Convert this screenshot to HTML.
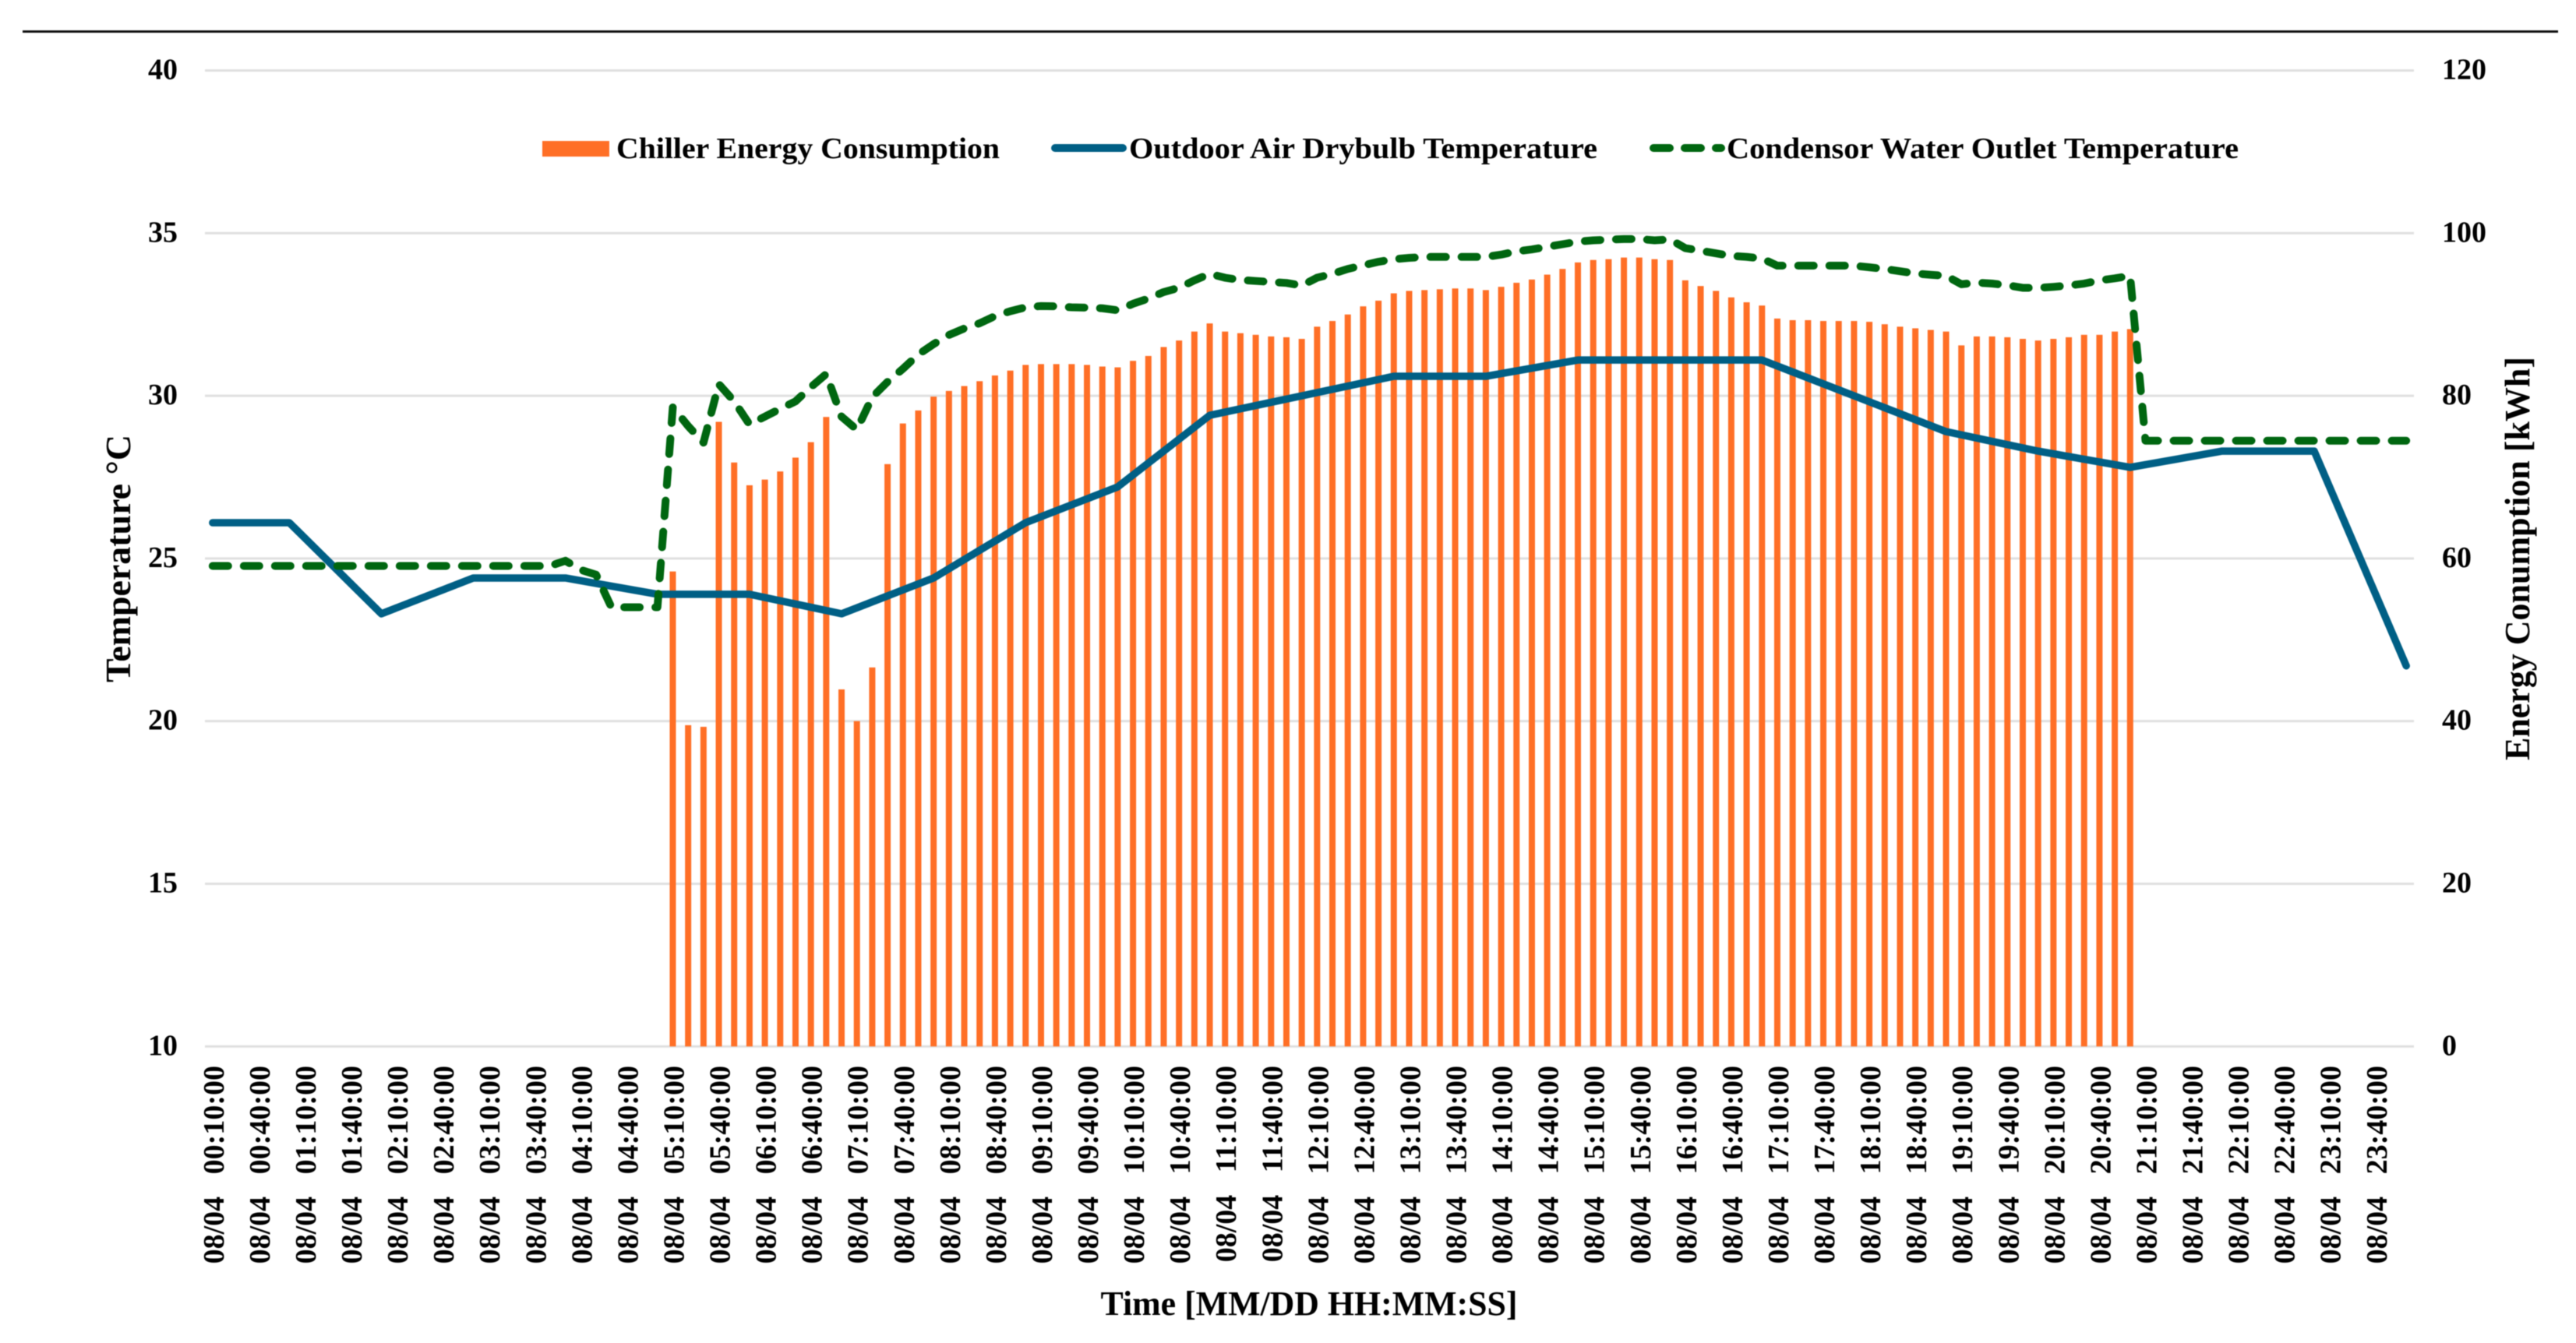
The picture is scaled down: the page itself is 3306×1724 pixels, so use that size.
<!DOCTYPE html>
<html lang="en">
<head>
<meta charset="utf-8">
<title>Chiller Energy Consumption and Temperatures</title>
<style>
html,body{margin:0;padding:0;background:#fff;}
#chart{display:block;width:3306px;height:1724px;filter:blur(0.6px);}
text{font-family:"Liberation Serif",serif;font-weight:700;fill:#000;font-size:38px;}
</style>
</head>
<body>
<svg id="chart" xmlns="http://www.w3.org/2000/svg" width="3306" height="1724" viewBox="0 0 3306 1724">
  <rect x="0" y="0" width="3306" height="1724" fill="#ffffff"/>
  <rect x="29" y="39" width="3254" height="3" fill="#111111"/>
  <g id="grid"></g>
  <g id="bars"></g>
  <path id="outdoorLine" fill="none" stroke="#005F85" stroke-width="9.5" stroke-linecap="round" stroke-linejoin="round"/>
  <path id="condenserLine" fill="none" stroke="#006610" stroke-width="10" stroke-linecap="round" stroke-linejoin="round" stroke-dasharray="20 20"/>
  <g id="yLeft"></g>
  <g id="yRight"></g>
  <g id="xTicks"></g>

  <g>
    <g>
      <rect x="696" y="181" width="86" height="20" fill="#FF6F26"/>
      <text x="791" y="203" textLength="492" lengthAdjust="spacingAndGlyphs">Chiller Energy Consumption</text>
    </g>
    <g>
      <line x1="1354" y1="190" x2="1441" y2="190" stroke="#005F85" stroke-width="10" stroke-linecap="round"/>
      <text x="1449" y="203" textLength="601" lengthAdjust="spacingAndGlyphs">Outdoor Air Drybulb Temperature</text>
    </g>
    <g>
      <line x1="2122" y1="190" x2="2209" y2="190" stroke="#006610" stroke-width="10" stroke-linecap="round" stroke-dasharray="21 19"/>
      <text x="2216" y="203" textLength="657" lengthAdjust="spacingAndGlyphs">Condensor Water Outlet Temperature</text>
    </g>
  </g>

  <text transform="translate(167 717) rotate(-90)" text-anchor="middle" style="font-size:45px" textLength="318" lengthAdjust="spacingAndGlyphs">Temperature °C</text>
  <text transform="translate(3246 717) rotate(-90)" text-anchor="middle" style="font-size:45px" textLength="518" lengthAdjust="spacingAndGlyphs">Energy Conumption [kWh]</text>
  <text x="1680" y="1688" text-anchor="middle" style="font-size:44px" textLength="535" lengthAdjust="spacingAndGlyphs">Time [MM/DD HH:MM:SS]</text>
</svg>

<script>
var leftTicks = [10, 15, 20, 25, 30, 35, 40];
var rightTicks = [0, 20, 40, 60, 80, 100, 120];
var tickDate = "08/04";
var tickLabels = [
"00:10:00","00:40:00","01:10:00","01:40:00","02:10:00","02:40:00","03:10:00","03:40:00",
"04:10:00","04:40:00","05:10:00","05:40:00","06:10:00","06:40:00","07:10:00","07:40:00",
"08:10:00","08:40:00","09:10:00","09:40:00","10:10:00","10:40:00","11:10:00","11:40:00",
"12:10:00","12:40:00","13:10:00","13:40:00","14:10:00","14:40:00","15:10:00","15:40:00",
"16:10:00","16:40:00","17:10:00","17:40:00","18:10:00","18:40:00","19:10:00","19:40:00",
"20:10:00","20:40:00","21:10:00","21:40:00","22:10:00","22:40:00","23:10:00","23:40:00"
];

/* Chiller energy, kWh: 05:10 through 21:00 at 10-minute steps */
var energyStart = "05:10";
var energyValues = [
58.4,39.5,39.3,76.8,71.8,69.0,69.7,70.7,72.4,74.3,77.4,43.9,40.0,46.6,71.6,76.6,
78.2,79.9,80.6,81.2,81.8,82.5,83.1,83.8,83.9,83.9,83.9,83.8,83.6,83.5,84.3,84.9,
86.0,86.8,87.9,88.9,87.9,87.7,87.5,87.3,87.2,87.0,88.5,89.2,90.0,91.0,91.7,92.6,
92.9,93.0,93.1,93.2,93.2,93.0,93.4,93.9,94.3,94.9,95.6,96.4,96.7,96.8,97.0,97.0,
96.8,96.7,94.2,93.5,92.9,92.1,91.5,91.1,89.5,89.3,89.3,89.2,89.2,89.2,89.1,88.8,
88.5,88.3,88.1,87.9,86.2,87.3,87.3,87.2,87.0,86.8,87.0,87.2,87.5,87.5,87.9,88.2
];

/* Outdoor drybulb, deg C: hourly station readings */
var outdoorTimes = ["00:10","01:00","02:00","03:00","04:00","05:00","06:00","07:00","08:00","09:00","10:00","11:00","12:00","13:00","14:00","15:00","16:00","17:00","18:00","19:00","20:00","21:00","22:00","23:00","24:00"];
var outdoorValues = [26.1,26.1,23.3,24.4,24.4,23.9,23.9,23.3,24.4,26.1,27.2,29.4,30.0,30.6,30.6,31.1,31.1,31.1,30.0,28.9,28.3,27.8,28.3,28.3,21.7];

/* Condensor water outlet, deg C: every 10 minutes from 00:10 to 24:00 */
var condenserStart = "00:10";
var condenserValues = [
24.77,24.77,24.77,24.77,24.77,24.77,24.77,24.77,24.77,24.77,24.77,24.77,
24.77,24.77,24.77,24.77,24.77,24.77,24.77,24.77,24.77,24.77,24.77,24.93,
24.65,24.50,23.50,23.50,23.50,23.50,29.65,29.07,28.56,30.36,29.83,29.12,
29.36,29.60,29.83,30.27,30.67,29.36,28.96,29.96,30.43,30.83,31.27,31.59,
31.87,32.07,32.23,32.45,32.60,32.72,32.76,32.75,32.72,32.71,32.69,32.63,
32.83,32.99,33.19,33.32,33.55,33.75,33.63,33.56,33.53,33.50,33.47,33.39,
33.63,33.75,33.90,34.01,34.12,34.20,34.24,34.27,34.27,34.27,34.27,34.27,
34.34,34.44,34.50,34.58,34.66,34.74,34.78,34.80,34.82,34.82,34.78,34.81,
34.54,34.46,34.38,34.30,34.27,34.22,34.00,34.00,34.00,34.00,34.00,34.00,
33.95,33.90,33.83,33.76,33.72,33.69,33.43,33.48,33.45,33.40,33.32,33.32,
33.35,33.39,33.45,33.55,33.61,33.69,28.62,28.62,28.62,28.62,28.62,28.62,
28.62,28.62,28.62,28.62,28.62,28.62,28.62,28.62,28.62,28.62,28.62,28.62
];

var SVGNS = "http://www.w3.org/2000/svg";
var plotLeft = 263, plotRight = 3098, plotTop = 90.5, plotBottom = 1343.3;
var categoryCount = 144;
var band = (plotRight - plotLeft) / categoryCount;
var barWidth = 8;

function xScale(i) { return plotLeft + (i + 0.5) * band; }
function yLeftScale(v) { return plotBottom - (v - 10) / 30 * (plotBottom - plotTop); }
function yRightScale(v) { return plotBottom - v / 120 * (plotBottom - plotTop); }
function timeToIndex(t) {
  var p = t.split(":");
  return (parseInt(p[0], 10) * 60 + parseInt(p[1], 10) - 10) / 10;
}
function make(tag, parent) {
  var el = document.createElementNS(SVGNS, tag);
  parent.appendChild(el);
  return el;
}
function pathFrom(points) {
  return points.map(function (p, i) { return (i ? "L" : "M") + p[0].toFixed(2) + " " + p[1].toFixed(2); }).join(" ");
}

var gridGroup = document.getElementById("grid");
leftTicks.forEach(function (v) {
  var line = make("rect", gridGroup);
  
  
  line.setAttribute("x", plotLeft);
  line.setAttribute("y", yLeftScale(v) - 1.5);
  line.setAttribute("width", plotRight - plotLeft);
  line.setAttribute("height", 3);
  line.setAttribute("fill", "#E0E0E0");
});

var barsGroup = document.getElementById("bars");
var energyOffset = timeToIndex(energyStart);
energyValues.forEach(function (v, i) {
  var y = yRightScale(v);
  var bar = make("rect", barsGroup);
  
  
  bar.setAttribute("x", xScale(i + energyOffset) - barWidth / 2);
  bar.setAttribute("y", y);
  bar.setAttribute("width", barWidth);
  bar.setAttribute("height", plotBottom - y);
  bar.setAttribute("fill", "#FF6F26");
});

document.getElementById("outdoorLine").setAttribute("d", pathFrom(outdoorValues.map(function (v, i) {
  return [xScale(timeToIndex(outdoorTimes[i])), yLeftScale(v)];
})));

var condenserOffset = timeToIndex(condenserStart);
document.getElementById("condenserLine").setAttribute("d", pathFrom(condenserValues.map(function (v, i) {
  return [xScale(i + condenserOffset), yLeftScale(v)];
})));

var yLeftGroup = document.getElementById("yLeft");
leftTicks.forEach(function (v) {
  var t = make("text", yLeftGroup);
  
  
  t.setAttribute("x", 228);
  t.setAttribute("y", yLeftScale(v) + 11);
  t.setAttribute("text-anchor", "end");
  t.textContent = String(v);
});

var yRightGroup = document.getElementById("yRight");
rightTicks.forEach(function (v) {
  var t = make("text", yRightGroup);
  
  
  t.setAttribute("x", 3134);
  t.setAttribute("y", yRightScale(v) + 11);
  t.textContent = String(v);
});

var xGroup = document.getElementById("xTicks");
tickLabels.forEach(function (label) {
  var cx = xScale(timeToIndex(label)) + 14;
  var t = make("text", xGroup);
  
  
  t.setAttribute("transform", "translate(" + cx.toFixed(2) + " 1368) rotate(-90)");
  t.setAttribute("text-anchor", "end");
  t.textContent = tickDate + "\u00A0\u00A0\u00A0" + label;
});
</script>
</body>
</html>
